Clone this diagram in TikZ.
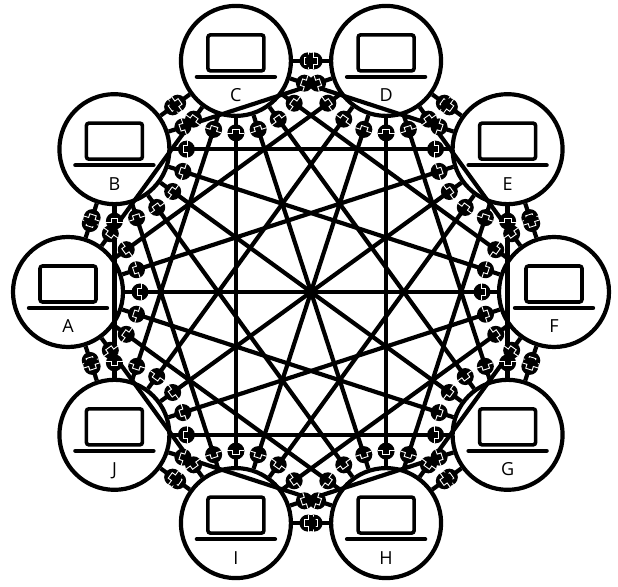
\documentclass[tikz,border=0pt]{standalone}
\usepackage{fontspec}
\setmainfont{Open Sans}
\usetikzlibrary{calc}
\tikzset{
  x=1pt,y=1pt,
  host/.style={circle,draw=black,line width=4.2pt,fill=white,minimum size=110pt,inner sep=0pt},
  linkline/.style={draw=black,line width=4.2pt},
  conn/.style={circle,fill=black,draw=none,minimum size=17pt,inner sep=0pt,outer sep=0pt},
  slit/.style={draw=white,line width=0.9pt},
  screen/.style={draw=black,line width=3.6pt,rounded corners=2.5pt},
  kbd/.style={draw=black,line width=4.4pt,line cap=round},
  hostname/.style={font=\fontsize{18}{20}\selectfont,anchor=base,inner sep=0pt,text=black},
}
\begin{document}
\begin{tikzpicture}
\useasboundingbox (0,0) rectangle (618,586);
\fill[white] (0,0) rectangle (618,586);
% hosts with laptop icon and name
\foreach \i/\nm in {0/A,1/B,2/C,3/D,4/E,5/F,6/G,7/H,8/I,9/J}{
  \pgfmathsetmacro\a{180-36*\i}
  \node[host] (n\i) at ($(311,294)+(\a:243pt)$) {};
  \begin{scope}[shift={(n\i.center)}]
    \draw[screen] (-28,26) rectangle (28,-10);
    \draw[kbd] (-39,-16) -- (39,-16);
    \node[hostname] (label\nm) at (0,-41) {\nm};
  \end{scope}
}
% links
\foreach \i in {0,...,8}{
  \pgfmathtruncatemacro\s{\i+1}
  \foreach \j in {\s,...,9}{
    \draw[linkline] (n\i) -- (n\j);
  }
}
% connectors at both ends of every link
\foreach \i in {0,...,9}{
  \foreach \j in {0,...,9}{
    \ifnum\i=\j\else
      \pgfmathsetmacro\ai{180-36*\i}
      \pgfmathsetmacro\aj{180-36*\j}
      \pgfmathsetmacro\ang{atan2(sin(\aj)-sin(\ai),cos(\aj)-cos(\ai))}
      \node[conn] (c\i-\j) at ($(n\i)!72pt!(n\j)$) {};
      \begin{scope}[shift={(c\i-\j.center)},rotate=\ang]
        \draw[slit] (1,8.5) -- (1,3.4) -- (-3,3.4) -- (-3,-3.4) -- (1,-3.4) -- (1,-8.5);
      \end{scope}
    \fi
  }
}
\end{tikzpicture}
\end{document}
